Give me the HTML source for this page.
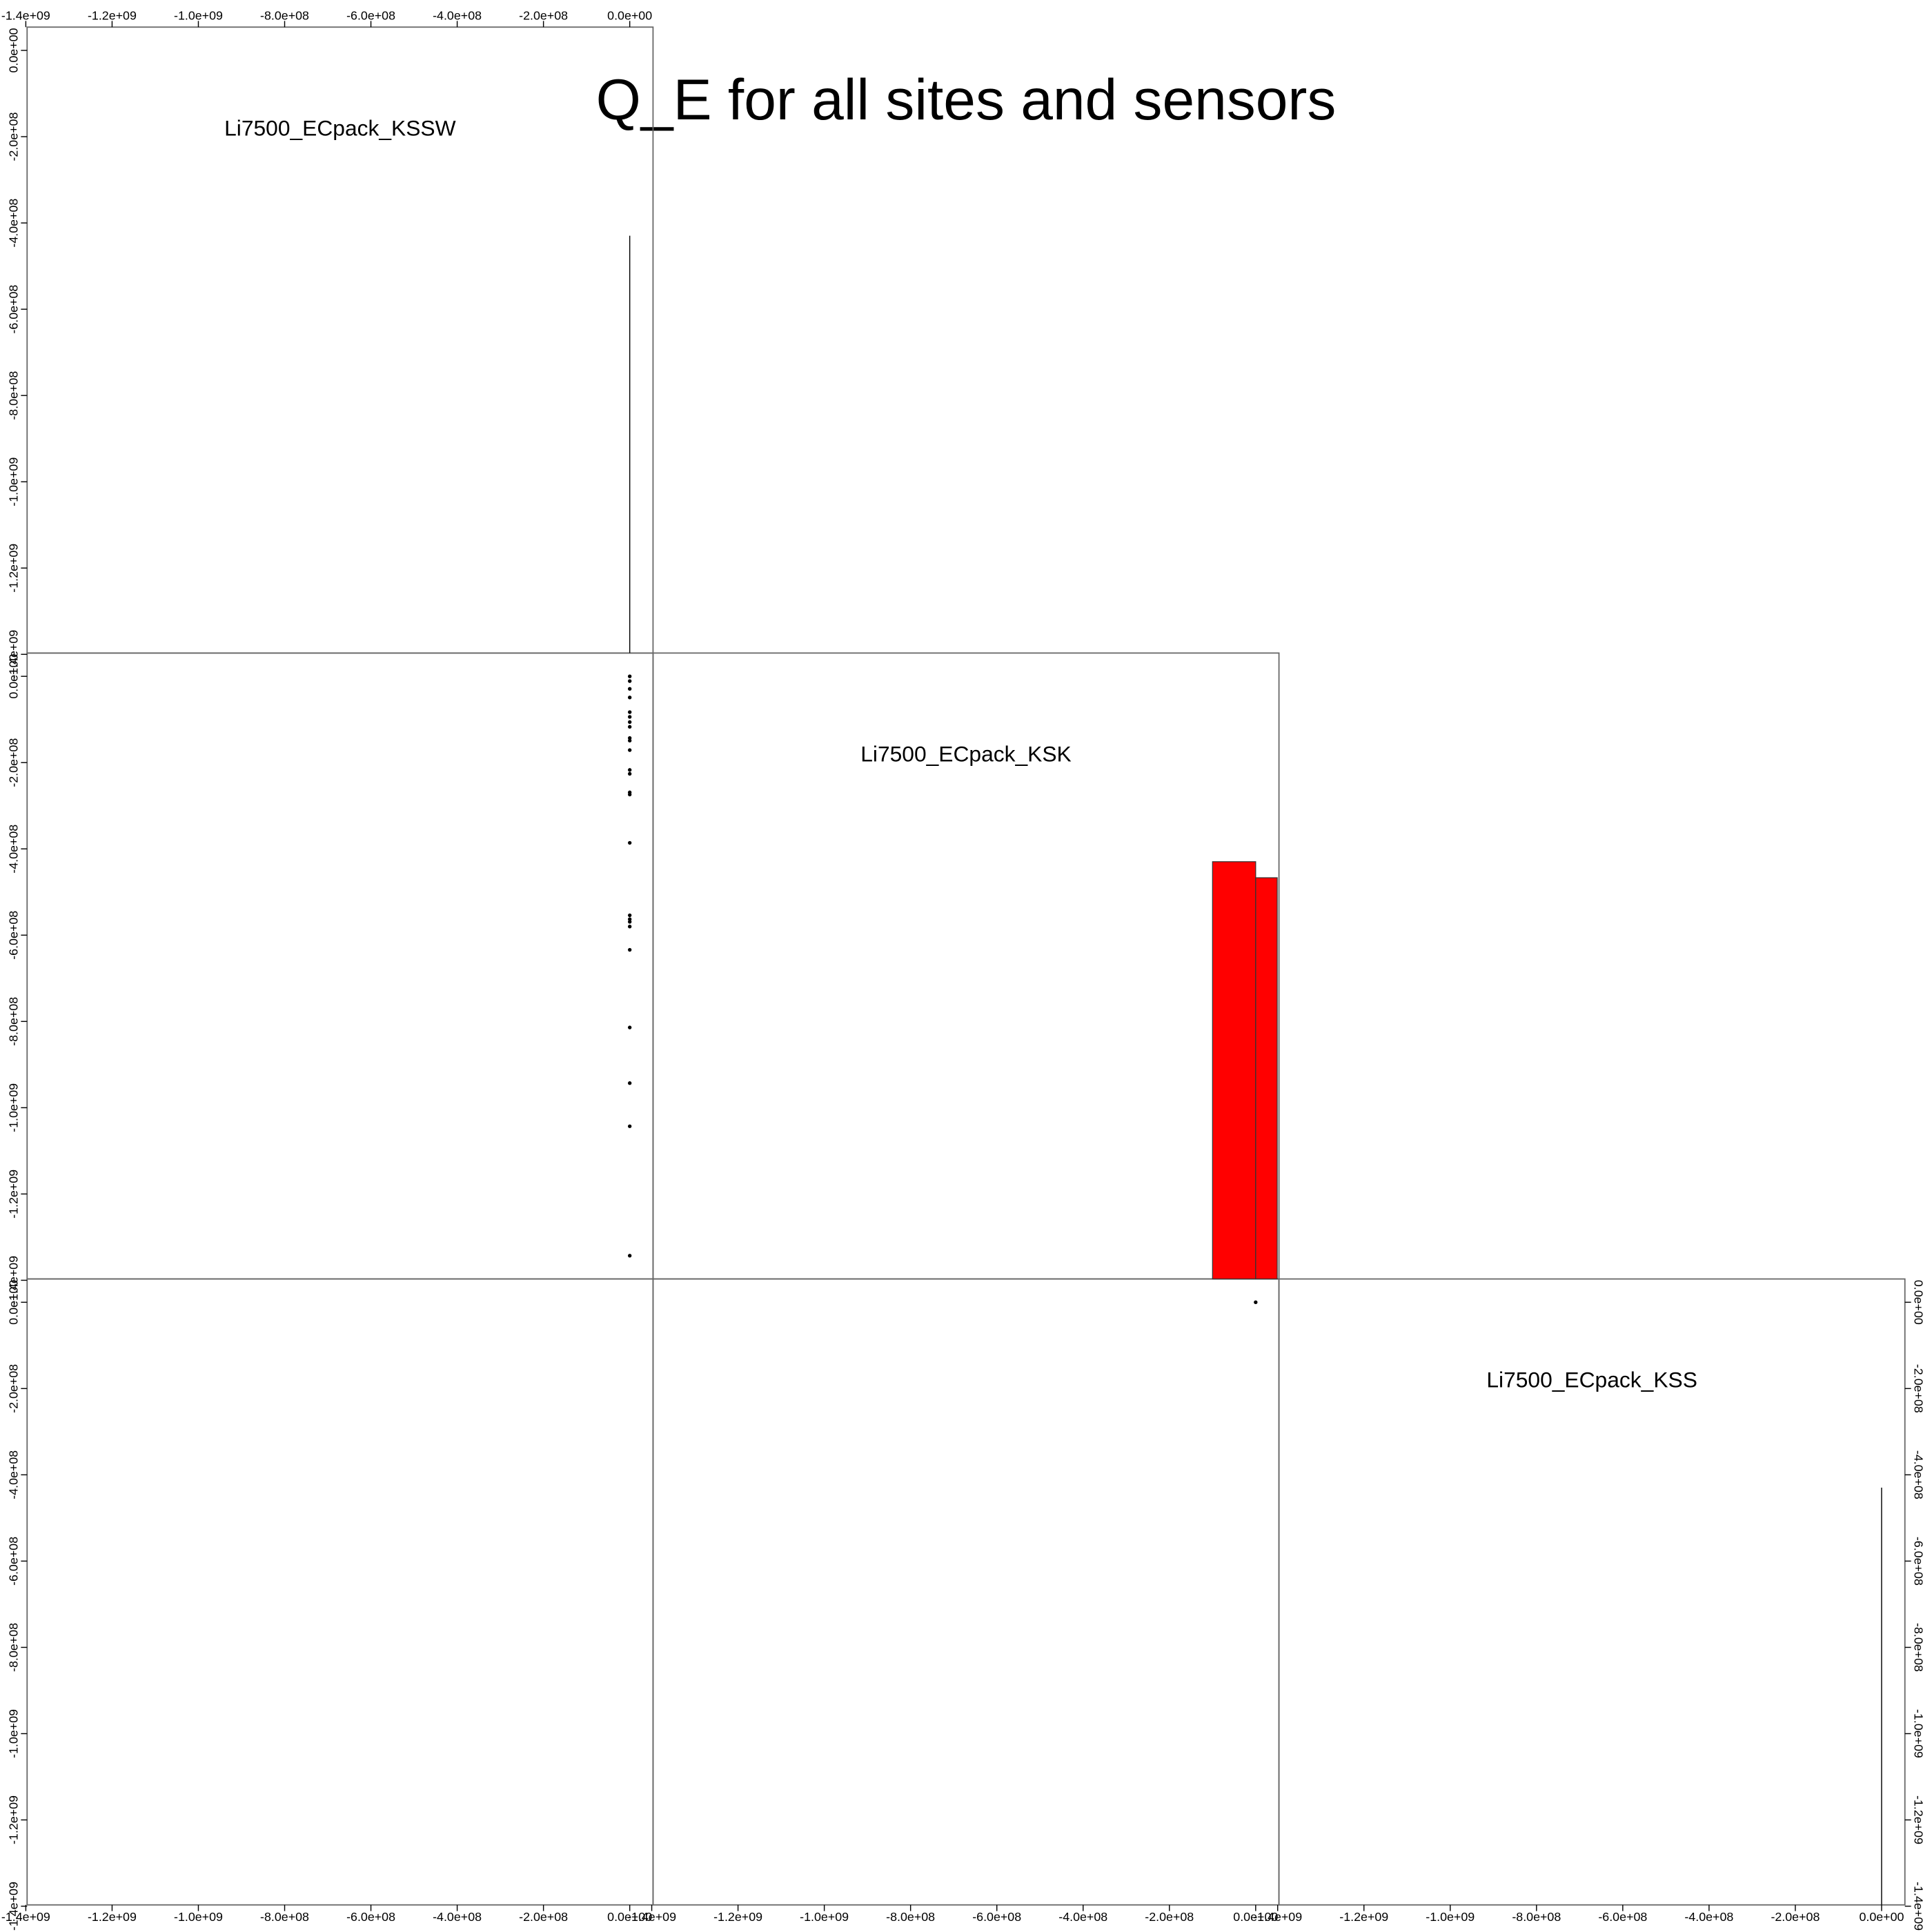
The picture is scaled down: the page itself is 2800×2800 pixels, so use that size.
<!DOCTYPE html>
<html><head><meta charset="utf-8"><style>html,body{margin:0;padding:0;background:#fff}svg{display:block}text{font-family:"Liberation Sans",sans-serif}</style></head>
<body>
<svg id="chart" width="2800" height="2800" viewBox="0 0 1568 1568" xmlns="http://www.w3.org/2000/svg">
<text x="784" y="97" font-size="47" text-anchor="middle">Q_E for all sites and sensors</text>
<g id="g"></g>
</svg>
<script>
const varNames = ["Li7500_ECpack_KSSW","Li7500_ECpack_KSK","Li7500_ECpack_KSS"];
const tickValues = [-1.4e9,-1.2e9,-1.0e9,-8e8,-6e8,-4e8,-2e8,0];
const tickLabels = ["-1.4e+09","-1.2e+09","-1.0e+09","-8.0e+08","-6.0e+08","-4.0e+08","-2.0e+08","0.0e+00"];
const kskValues = [0,-1.1e7,-2.9e7,-4.9e7,-8.3e7,-9.4e7,-1.06e8,-1.17e8,-1.43e8,-1.49e8,-1.71e8,-2.17e8,-2.26e8,-2.69e8,-2.74e8,-3.86e8,-5.54e8,-5.63e8,-5.69e8,-5.8e8,-6.34e8,-8.14e8,-9.43e8,-1.043e9,-1.343e9];
const kssw_for_ksk = [0,0,0,0,0,0,0,0,0,0,0,0,0,0,0,0,0,0,0,0,0,0,0,0,0];
const kskKssPairX = [0];
const kskKssPairY = [0];
const histKsswBreaks = [0,0]; const histKsswCounts = [26];
const histKskBreaks = [-1e8,0,5e7]; const histKskCounts = [26,25];
const histKssBreaks = [0,0]; const histKssCounts = [26];
const histMax = 26;

const NS="http://www.w3.org/2000/svg", g=document.getElementById('g');
const P0=22, PS=508, vmin=-1.397e9, vmax=5.4e7;
function px(c,v){return P0+c*PS+(v-vmin)/(vmax-vmin)*PS;}
function py(r,v){return P0+r*PS+(vmax-v)/(vmax-vmin)*PS;}
function hy(r,c){return P0+(r+1)*PS - c/(1.5*histMax)*PS;}
function el(t,a,txt){const e=document.createElementNS(NS,t);for(const k in a)e.setAttribute(k,a[k]);if(txt!==undefined)e.textContent=txt;g.appendChild(e);return e;}

const panels=[[0,0],[1,0],[1,1],[2,0],[2,1],[2,2]];
panels.forEach(([r,c])=>{
 const e=el('rect',{x:P0+c*PS,y:P0+r*PS,width:PS,height:PS,fill:'none',stroke:'#666','stroke-width':1});
 
 
});
varNames.forEach((n,i)=>{
 const e=el('text',{x:P0+i*PS+PS/2,y:P0+i*PS+88,'font-size':17.8,'text-anchor':'middle'},n);
 
 
});
function axisX(c,yEdge,dir){
 tickValues.forEach((v,i)=>{const x=px(c,v);
  const t=el('line',{x1:x,x2:x,y1:yEdge,y2:yEdge+dir*5,stroke:'#000','stroke-width':0.8});
  
  
  const l=el('text',{x:x,y:dir<0?yEdge-6:yEdge+13,'font-size':10,'text-anchor':'middle'},tickLabels[i]);
  
  
 });
}
function axisY(r,xEdge,dir){
 tickValues.forEach((v,i)=>{const y=py(r,v);
  const t=el('line',{x1:xEdge,x2:xEdge+dir*5,y1:y,y2:y,stroke:'#000','stroke-width':0.8});
  
  
  const lx=dir<0?xEdge-11:xEdge+11;
  const l=el('text',{x:lx,y:y,'font-size':10,'text-anchor':'middle',transform:`rotate(${dir<0?-90:90} ${lx} ${y})`,'dominant-baseline':'central'},tickLabels[i]);
  
  
 });
}
axisX(0,P0,-1);
for(let c=0;c<3;c++)axisX(c,P0+3*PS,1);
for(let r=0;r<3;r++)axisY(r,P0,-1);
axisY(2,P0+3*PS,1);
function hist(i,breaks,counts){
 counts.forEach((n,k)=>{const x1=px(i,breaks[k]),x2=px(i,breaks[k+1]);
  const bottom=P0+(i+1)*PS, top=hy(i,n);
  if(x2-x1<0.5){
   const e=el('line',{x1:x1,x2:x1,y1:top,y2:bottom,stroke:'#000','stroke-width':0.8});
   
   
  } else {
   const e=el('rect',{x:x1,y:top,width:x2-x1,height:bottom-top,fill:'#ff0000',stroke:'#333','stroke-width':0.7});
   
   
  }
 });
}
hist(0,histKsswBreaks,histKsswCounts);
hist(1,histKskBreaks,histKskCounts);
hist(2,histKssBreaks,histKssCounts);
kskValues.forEach((v,k)=>{
 const e=el('circle',{cx:px(0,kssw_for_ksk[k]),cy:py(1,v),r:1.5,fill:'#000'});
 
 
});
kskKssPairX.forEach((v,k)=>{
 const e=el('circle',{cx:px(1,v),cy:py(2,kskKssPairY[k]),r:1.5,fill:'#000'});
 
 
});
</script>
</body></html>
